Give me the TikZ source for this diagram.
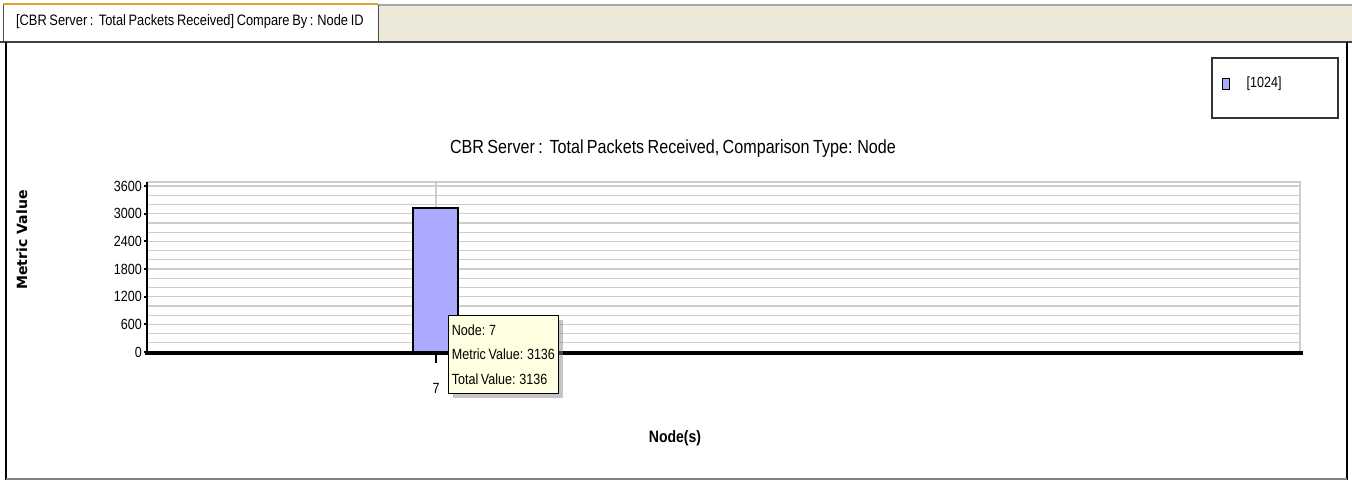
\documentclass[tikz,border=0pt]{standalone}
\usepackage{fontspec}
\setmainfont{Liberation Sans}
\newfontfamily\chartfont[FakeStretch=0.85,WordSpace=0.75]{Liberation Sans}
\newfontfamily\axisfont{DejaVu Sans}
\usepackage{tikz}
\usetikzlibrary{arrows,positioning,shadows}
\definecolor{barblue}{RGB}{170,170,255}
\definecolor{tipyellow}{RGB}{255,255,225}
\definecolor{tabbeige}{RGB}{236,233,216}
\definecolor{gridgray}{RGB}{205,205,205}
\definecolor{taborange}{RGB}{230,160,40}
\tikzset{every shadow/.style={fill=black!45,shadow xshift=2.5pt,shadow yshift=-2.5pt}}
\tikzset{lbl/.style={font=\chartfont\fontsize{8.4}{10}\selectfont,inner sep=1pt}}

\begin{document}
\begin{tikzpicture}[x=0.02cm,y=-0.02cm]
\useasboundingbox (0,0) rectangle (1352,480);
% tab strip
\fill[tabbeige] (378,5) rectangle (1352,42);
\draw[gray!70,line width=0.6pt] (378,5) -- (1352,5);
\draw[taborange,line width=1.2pt] (3,4) -- (378,4);
\draw[black!70] (3,5) -- (3,42);
\draw[black!70] (378,5) -- (378,42);
\node (tab) [lbl,anchor=west,font=\chartfont\fontsize{8.6}{11}\selectfont] at (14,22) {[CBR Server :\ \ Total Packets Received] Compare By : Node ID};
\draw[black!75,line width=1.3pt] (0,42) -- (1352,42);
% frame
\draw[black,line width=1.4pt] (6,42) -- (6,480);
\draw[black,line width=1pt] (1347,42) -- (1347,480);
\draw[gray,line width=0.8pt] (6,479) -- (1347,479);
% legend
\node (legend) [draw=black!80,thick,minimum width=2.52cm,minimum height=1.2cm] at (1275,88) {};
\node (key) [draw=black,fill=barblue,minimum width=0.13cm,minimum height=0.22cm,inner sep=0pt] at (1226,84) {};
\node (keytext) [lbl,right=0.3cm of key] {[1024]};
% title
\node (title) [font=\chartfont\fontsize{10.8}{12}\selectfont] at (673,149) {CBR Server :\ \ Total Packets Received, Comparison Type: Node};
% plot area, 0..3600 maps to y 352..186
\foreach \v in {200,400,...,3600}
  \draw[gridgray,line width=0.7pt] (147,{352-\v/3600*166}) -- (1300,{352-\v/3600*166});
\draw[gridgray,line width=0.7pt] (147,182) -- (1300,182) -- (1300,352);
\draw[gridgray,line width=0.7pt] (436,182) -- (436,352);
\foreach \v in {0,600,...,3600} {
  \draw[black,line width=1.2pt] (144,{352-\v/3600*166}) -- (147,{352-\v/3600*166});
  \node [lbl,anchor=east] at (144,{352-\v/3600*166}) {\v};
}
\draw[black,line width=1.4pt] (147,182) -- (147,353);
% bar for node 7
\filldraw[fill=barblue,draw=black,line width=0.8pt] (413,352) rectangle (458,208);
\draw[black,line width=2pt] (145,353) -- (1303,353);
\draw[black,line width=1.2pt] (436,353) -- (436,363);
\node (xlabel7) [lbl] at (436,388) {7};
% tooltip
\node (tip) [draw=black,fill=tipyellow,drop shadow,anchor=north west,align=left,
  lbl,inner xsep=2pt,inner ysep=3pt,minimum width=2.2cm,minimum height=1.56cm,font=\chartfont\fontsize{8.4}{14}\selectfont] at (448,315)
  {Node: 7\\Metric Value: 3136\\Total Value: 3136};
% axis titles
\node (ytitle) [font=\axisfont\bfseries\fontsize{8}{9}\selectfont,rotate=90] at (22,240) {Metric Value};
\node (xtitle) [font=\chartfont\bfseries\fontsize{9.4}{11}\selectfont] at (675,438) {Node(s)};
\end{tikzpicture}
\end{document}
